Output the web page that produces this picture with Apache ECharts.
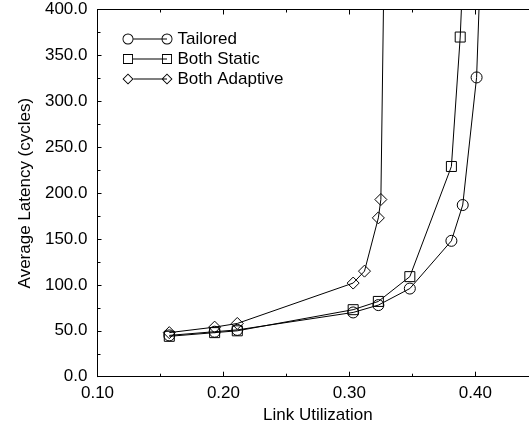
<!DOCTYPE html>
<html>
<head>
<meta charset="utf-8">
<script src="https://cdn.jsdelivr.net/npm/echarts@6/dist/echarts.min.js"></script>
<style>
  html, body { margin: 0; padding: 0; background: #fff; }
  #main { width: 529px; height: 423px; }
</style>
</head>
<body>
<div id="main"></div>
<script>
// 数据
var seriesNames = ['Tailored', 'Both Static', 'Both Adaptive']
var tailored = [[0.157, 45], [0.193, 49], [0.211, 51], [0.303, 70], [0.323, 78], [0.348, 96], [0.381, 148], [0.390, 187], [0.401, 326], [0.406, 520]]
var bothStatic = [[0.157, 44], [0.193, 48], [0.211, 50], [0.303, 73], [0.323, 82], [0.348, 109], [0.381, 229], [0.388, 370], [0.392, 500]]
var bothAdaptive = [[0.157, 48], [0.193, 54], [0.211, 58], [0.303, 102], [0.312, 115], [0.323, 173], [0.325, 193], [0.329, 600]]
var xMajorTicks = [0.10, 0.20, 0.30, 0.40]
var yTicks = [0, 50, 100, 150, 200, 250, 300, 350, 400]

var font = 'Liberation Sans, Arial, sans-serif'
var fontSize = 17

// 图例图标：符号-线-符号
var box = 'M0 0 L0 0 Z M50 11 L50 11 Z '
function ring(cx) {
  return 'M' + (cx - 5.5) + ' 5.5 A5.5 5.5 0 1 1 ' + (cx + 5.5) + ' 5.5 A5.5 5.5 0 1 1 ' + (cx - 5.5) + ' 5.5 Z ' +
    'M' + (cx - 4.6) + ' 5.5 A4.6 4.6 0 1 0 ' + (cx + 4.6) + ' 5.5 A4.6 4.6 0 1 0 ' + (cx - 4.6) + ' 5.5 Z '
}
function square(cx) {
  return 'M' + (cx - 5) + ' 0.5 H' + (cx + 5) + ' V10.5 H' + (cx - 5) + ' Z ' +
    'M' + (cx - 4.1) + ' 1.4 V9.6 H' + (cx + 4.1) + ' V1.4 Z '
}
function diamond(cx) {
  return 'M' + (cx - 5.5) + ' 5.5 L' + cx + ' 0 L' + (cx + 5.5) + ' 5.5 L' + cx + ' 11 Z ' +
    'M' + (cx - 4.2) + ' 5.5 L' + cx + ' 9.7 L' + (cx + 4.2) + ' 5.5 L' + cx + ' 1.3 Z '
}
function bar(x0, x1) {
  return 'M' + x0 + ' 5 H' + x1 + ' V6 H' + x0 + ' Z '
}
var icons = [
  'path://' + box + ring(5.5) + bar(11, 44.5) + ring(44.5),
  'path://' + box + square(5.5) + bar(10.5, 44.5) + square(44.5),
  'path://' + box + diamond(5.5) + bar(11, 44.5) + diamond(44.5)
]

var chart = echarts.init(document.getElementById('main'))

function lineSeries(name, data, symbol, size) {
  return {
    name: name,
    type: 'line',
    xAxisIndex: 0,
    yAxisIndex: 0,
    data: data,
    symbol: symbol,
    symbolSize: size,
    showAllSymbol: true,
    clip: true,
    lineStyle: { color: '#000', width: 1 },
    itemStyle: { color: 'rgba(0,0,0,0)', borderColor: '#000', borderWidth: 1 },
    emphasis: { disabled: true },
    animation: false
  }
}

var gridBox = { left: 97.5, top: 9.5, right: -9.3, bottom: 46.3, outerBoundsMode: 'none', containLabel: false }

var option = {
  backgroundColor: '#fff',
  animation: false,
  grid: [
    Object.assign({}, gridBox),
    Object.assign({}, gridBox)
  ],
  legend: {
    orient: 'vertical',
    left: 117.5,
    top: 25.5,
    padding: 5,
    itemWidth: 50,
    itemHeight: 11,
    itemGap: 3,
    selectedMode: false,
    itemStyle: { color: '#000', borderWidth: 0 },
    textStyle: { color: '#000', fontSize: fontSize, fontFamily: font },
    data: seriesNames.map(function (n, i) { return { name: n, icon: icons[i] } })
  },
  xAxis: [
    {
      gridIndex: 0,
      type: 'value',
      position: 'bottom',
      min: 0.1,
      max: 0.45,
      interval: 0.1,
      name: 'Link Utilization',
      nameLocation: 'middle',
      nameGap: 30,
      nameTextStyle: { color: '#000', fontSize: fontSize, fontFamily: font },
      axisLine: { lineStyle: { color: '#000', width: 1 } },
      axisTick: { inside: true, length: 5, lineStyle: { color: '#000' } },
      axisLabel: {
        color: '#000', fontSize: fontSize, fontFamily: font, margin: 8,
        showMaxLabel: false,
        formatter: function (v) { return xMajorTicks.indexOf(Math.round(v * 100) / 100) > -1 ? v.toFixed(2) : '' }
      },
      splitLine: { show: false }
    },
    {
      gridIndex: 0,
      type: 'value',
      position: 'top',
      min: 0.1,
      max: 0.45,
      interval: 0.1,
      axisLine: { lineStyle: { color: '#000', width: 1 } },
      axisTick: { inside: true, length: 5, lineStyle: { color: '#000' } },
      axisLabel: { show: false },
      splitLine: { show: false }
    },
    {
      gridIndex: 1,
      type: 'value',
      position: 'bottom',
      min: 0.1,
      max: 0.45,
      interval: 0.05,
      axisLine: { show: false },
      axisTick: { inside: true, length: 3, lineStyle: { color: '#000' } },
      axisLabel: { show: false },
      splitLine: { show: false }
    },
    {
      gridIndex: 1,
      type: 'value',
      position: 'top',
      min: 0.1,
      max: 0.45,
      interval: 0.05,
      axisLine: { show: false },
      axisTick: { inside: true, length: 3, lineStyle: { color: '#000' } },
      axisLabel: { show: false },
      splitLine: { show: false }
    }
  ],
  yAxis: [
    {
      gridIndex: 0,
      type: 'value',
      min: yTicks[0],
      max: yTicks[yTicks.length - 1],
      interval: 50,
      name: 'Average Latency (cycles)',
      nameLocation: 'middle',
      nameGap: 64,
      nameTextStyle: { color: '#000', fontSize: fontSize, fontFamily: font },
      axisLine: { show: true, lineStyle: { color: '#000', width: 1 } },
      axisTick: { show: true, inside: true, length: 4, lineStyle: { color: '#000' } },
      minorTick: { show: true, splitNumber: 2, length: 3, lineStyle: { color: '#000' } },
      axisLabel: {
        color: '#000', fontSize: fontSize, fontFamily: font, margin: 10,
        formatter: function (v) { return v.toFixed(1) }
      },
      splitLine: { show: false }
    },
    {
      gridIndex: 1,
      type: 'value',
      min: 0,
      max: 400,
      show: false
    }
  ],
  series: [
    lineSeries(seriesNames[0], tailored, 'circle', 11),
    lineSeries(seriesNames[1], bothStatic, 'rect', 10),
    lineSeries(seriesNames[2], bothAdaptive, 'diamond', 12)
  ]
}

chart.setOption(option)
</script>
</body>
</html>
